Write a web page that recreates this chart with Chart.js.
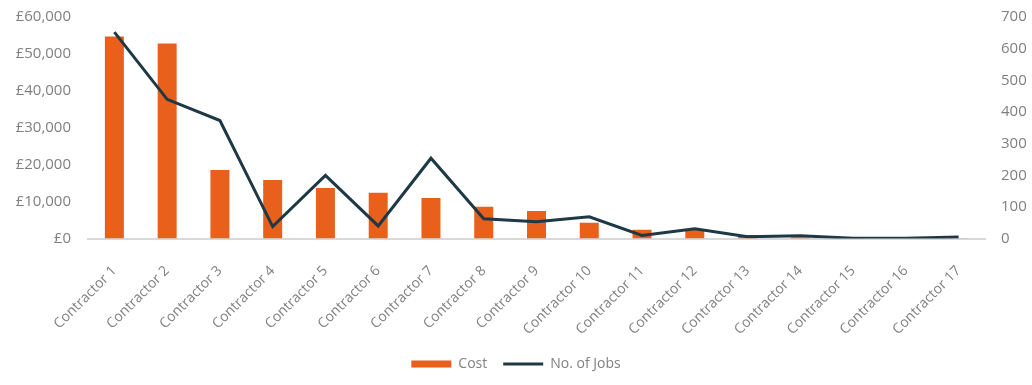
<!DOCTYPE html>
<html lang="en">
<head>
  <meta charset="UTF-8">
  <title>Contractor cost and jobs</title>
  <script src="https://cdn.jsdelivr.net/npm/chart.js"></script>
  <style>
    html, body { margin: 0; padding: 0; background: #fff; }
    .chart-box { width: 1032px; height: 385px; }
  </style>
</head>
<body>
<div class="chart-box">
  <canvas id="costChart"></canvas>
</div>
<script>
  const contractors = ['Contractor 1', 'Contractor 2', 'Contractor 3', 'Contractor 4', 'Contractor 5', 'Contractor 6',
    'Contractor 7', 'Contractor 8', 'Contractor 9', 'Contractor 10', 'Contractor 11', 'Contractor 12',
    'Contractor 13', 'Contractor 14', 'Contractor 15', 'Contractor 16', 'Contractor 17'];
  const costValues = [54700, 52800, 18600, 15900, 13700, 12400, 11000, 8600, 7500, 4300, 2400, 2500, 1000, 300, 100, 50, 100];
  const jobValues = [652, 440, 373, 38, 200, 40, 254, 63, 53, 69, 10, 31, 6, 9, 1, 1, 5];
  const costTicks = [0, 10000, 20000, 30000, 40000, 50000, 60000];
  const jobTicks = [0, 100, 200, 300, 400, 500, 600, 700];

  const textGrey = '#808080';
  const tickFont = { family: 'Open Sans', size: 15 };

  // y axes: fixed widths and top gap so the plot sits where the original does
  function fitY(width) {
    return axis => {
      axis.width = width;
      axis.paddingTop = 17;
      axis.paddingBottom = 0;
    };
  }

  new Chart(document.getElementById('costChart'), {
    data: {
      labels: contractors,
      datasets: [
        {
          type: 'line',
          label: 'No. of Jobs',
          data: jobValues,
          yAxisID: 'yJobs',
          borderColor: '#1e3845',
          backgroundColor: '#1e3845',
          borderWidth: 3,
          pointRadius: 0,
          tension: 0,
          order: 1
        },
        {
          type: 'bar',
          label: 'Cost',
          data: costValues,
          yAxisID: 'yCost',
          backgroundColor: '#e8601c',
          barPercentage: 0.6,
          categoryPercentage: 0.6,
          order: 2
        }
      ]
    },
    options: {
      responsive: true,
      maintainAspectRatio: false,
      animation: false,
      layout: { padding: { top: 0, left: 0, right: 0, bottom: 4 } },
      plugins: {
        tooltip: { enabled: false },
        legend: {
          position: 'bottom',
          reverse: true,
          labels: {
            color: textGrey,
            font: { family: 'Open Sans', size: 14 },
            usePointStyle: true,
            pointStyleWidth: 40,
            boxHeight: 7,
            padding: 16,
            generateLabels(chart) {
              const items = Chart.defaults.plugins.legend.labels.generateLabels(chart);
              items.forEach(item => {
                const ds = chart.data.datasets[item.datasetIndex];
                item.pointStyle = ds.type === 'line' ? 'line' : 'rect';
              });
              return items;
            }
          }
        }
      },
      scales: {
        x: {
          grid: { display: false, drawTicks: false },
          border: { color: '#d9d9d9', width: 2 },
          ticks: { color: textGrey, font: { family: 'Open Sans', size: 14 }, minRotation: 45, maxRotation: 45, padding: 24 },
          afterFit(axis) {
            // let rotated labels hang past the plot edge instead of squeezing it
            axis.height -= 21;
            axis.paddingLeft = 0;
            axis.paddingRight = 0;
          }
        },
        yCost: {
          position: 'left',
          min: 0,
          max: 60000,
          grid: { display: false, drawTicks: false },
          border: { display: false },
          afterBuildTicks(axis) { axis.ticks = costTicks.map(v => ({ value: v })); },
          afterFit: fitY(88),
          ticks: {
            color: textGrey,
            font: tickFont,
            padding: 17,
            callback: v => '£' + v.toLocaleString('en-GB')
          }
        },
        yJobs: {
          position: 'right',
          min: 0,
          max: 700,
          grid: { display: false, drawTicks: false },
          border: { display: false },
          afterBuildTicks(axis) { axis.ticks = jobTicks.map(v => ({ value: v })); },
          afterFit: fitY(47),
          ticks: { color: textGrey, font: tickFont, padding: 16 }
        }
      }
    }
  });
</script>
</body>
</html>
